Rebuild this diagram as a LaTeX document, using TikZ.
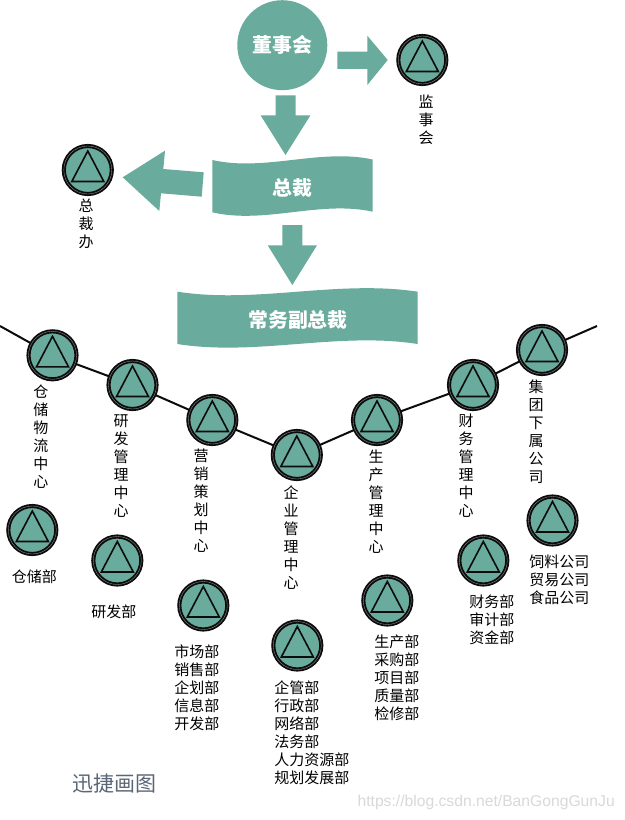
\documentclass[tikz,border=0pt]{standalone}
\usepackage{fontspec}
\usetikzlibrary{calc}
\setmainfont{Noto Sans CJK SC}
\newfontfamily\wmfont{Liberation Sans}
\definecolor{teal1}{HTML}{69AB9C}
\definecolor{ring}{HTML}{0C0C0C}
\definecolor{brandc}{HTML}{5A6675}
\tikzset{
  blockarrow/.style={fill=teal1,draw=none},
  banner/.style={fill=teal1,draw=none},
  title/.style={text=white,font=\bfseries\fontsize{14.9}{17}\selectfont,inner sep=0pt},
  lab/.style={text=black,font=\fontsize{11.25}{13.5}\selectfont,inner sep=0pt,align=left,anchor=north west},
  vlab/.style={text=black,font=\fontsize{11.25}{13.5}\selectfont,inner sep=0pt,align=center,anchor=north},
  linkline/.style={draw=ring,line width=1.5pt},
  tri/.style={draw=ring,line width=1.2pt,line join=miter},
  hubnode/.style={circle,draw=ring,line width=3.1pt,fill=teal1,minimum size=36pt,inner sep=0pt}
}
\newcommand{\hubat}[2]{%
  \node[hubnode] (#1) at #2 {};
  \draw[draw=black!40,line width=0.25pt] (#1.center) circle[radius=24];
  \draw[tri] ($(#1.center)+(0,-19)$) -- ($(#1.center)+(16,11.5)$) -- ($(#1.center)+(-16,11.5)$) -- cycle;
}
\begin{document}
\begin{tikzpicture}[x=0.75pt,y=-0.75pt]
\useasboundingbox (0,0) rectangle (624,820);
\fill[white] (0,0) rectangle (624,820);
% chain connector
\coordinate (lend) at (0,326);
\coordinate (rend) at (597,326);
\coordinate (c1) at (52.5,355.3);
\coordinate (c2) at (132.5,385);
\coordinate (c3) at (212.3,420);
\coordinate (c4) at (296.8,455);
\coordinate (c5) at (377,420);
\coordinate (c6) at (473,385);
\coordinate (c7) at (542,350);
\draw[linkline] (lend) -- (c1) -- (c2) -- (c3) -- (c4) -- (c5) -- (c6) -- (c7) -- (rend);
% board
\node[circle,fill=teal1,minimum size=67.5pt,inner sep=0pt,title] (board) at (282.3,45.2) {董事会};
% arrows
\fill[blockarrow] (337.3,51.7) -- (367.3,51.7) -- (367.3,35.7) -- (387.7,60) -- (367.3,85) -- (367.3,69) -- (337.3,69) -- cycle;
\fill[blockarrow] (275.7,95.5) -- (295.7,95.5) -- (295.7,115.5) -- (310.3,115.5) -- (285.5,155) -- (260.7,115.5) -- (275.7,115.5) -- cycle;
\fill[blockarrow] (203.7,172.3) -- (163.3,169) -- (165,150.7) -- (122.7,177.3) -- (159.3,211) -- (161,193.3) -- (201.7,196.7) -- cycle;
\fill[blockarrow] (282.3,225) -- (302.3,225) -- (302.3,245.3) -- (317,245.3) -- (292.3,285) -- (267.7,245.3) -- (282.3,245.3) -- cycle;
% banners
\fill[banner] (212.3,160) .. controls (265,172) and (320,148) .. (372.7,159.5) -- (372.7,211.7) .. controls (320,200) and (265,224.5) .. (212.3,212.3) -- cycle;
\node[title] (ceo) at (292.5,188) {总裁};
\fill[banner] (177.3,291.7) .. controls (257,304) and (337,279.5) .. (417.7,291.7) -- (417.7,344) .. controls (337,331.5) and (257,356.5) .. (177.3,344) -- cycle;
\node[title] (vp) at (298,319.5) {常务副总裁};
% hubs
\hubat{h1}{(c1)}\hubat{h2}{(c2)}\hubat{h3}{(c3)}\hubat{h4}{(c4)}\hubat{h5}{(c5)}\hubat{h6}{(c6)}\hubat{h7}{(c7)}
\hubat{sup}{(422.3,60)}
\hubat{off}{(87.8,170)}
\hubat{d1}{(32.3,530)}\hubat{d2}{(117.3,560.5)}\hubat{d3}{(203.3,605.5)}\hubat{d4}{(297.3,645.5)}\hubat{d5}{(387.3,600.5)}\hubat{d6}{(483.3,560.5)}\hubat{d7}{(552.5,520.5)}
% vertical labels
\node[vlab] (l0) at (426,95) {监\\事\\会};
\node[vlab] (l00) at (86,199) {总\\裁\\办};
\node[vlab] (l1) at (41,385) {仓\\储\\物\\流\\中\\心};
\node[vlab] (l2) at (121,414) {研\\发\\管\\理\\中\\心};
\node[vlab] (l3) at (201,449) {营\\销\\策\\划\\中\\心};
\node[vlab] (l4) at (291,485) {企\\业\\管\\理\\中\\心};
\node[vlab] (l5) at (376,450) {生\\产\\管\\理\\中\\心};
\node[vlab] (l6) at (466,414) {财\\务\\管\\理\\中\\心};
\node[vlab] (l7) at (536,380) {集\\团\\下\\属\\公\\司};
% lists
\node[lab] (m1) at (11.5,570) {仓储部};
\node[lab] (m2) at (91,605) {研发部};
\node[lab] (m3) at (174,645) {市场部\\销售部\\企划部\\信息部\\开发部};
\node[lab] (m4) at (274,680) {企管部\\行政部\\网络部\\法务部\\人力资源部\\规划发展部};
\node[lab] (m5) at (374,635) {生产部\\采购部\\项目部\\质量部\\检修部};
\node[lab] (m6) at (469,595) {财务部\\审计部\\资金部};
\node[lab] (m7) at (529,555) {饲料公司\\贸易公司\\食品公司};
% captions
\node[inner sep=0pt,anchor=west,text=brandc,font=\fontsize{15.75}{18}\selectfont] (brand) at (72,784) {迅捷画图};
\node[inner sep=0pt,anchor=east,text=black!15,font=\wmfont\fontsize{11.76}{14}\selectfont] (wm) at (615,802) {https://blog.csdn.net/BanGongGunJu};
\end{tikzpicture}
\end{document}
